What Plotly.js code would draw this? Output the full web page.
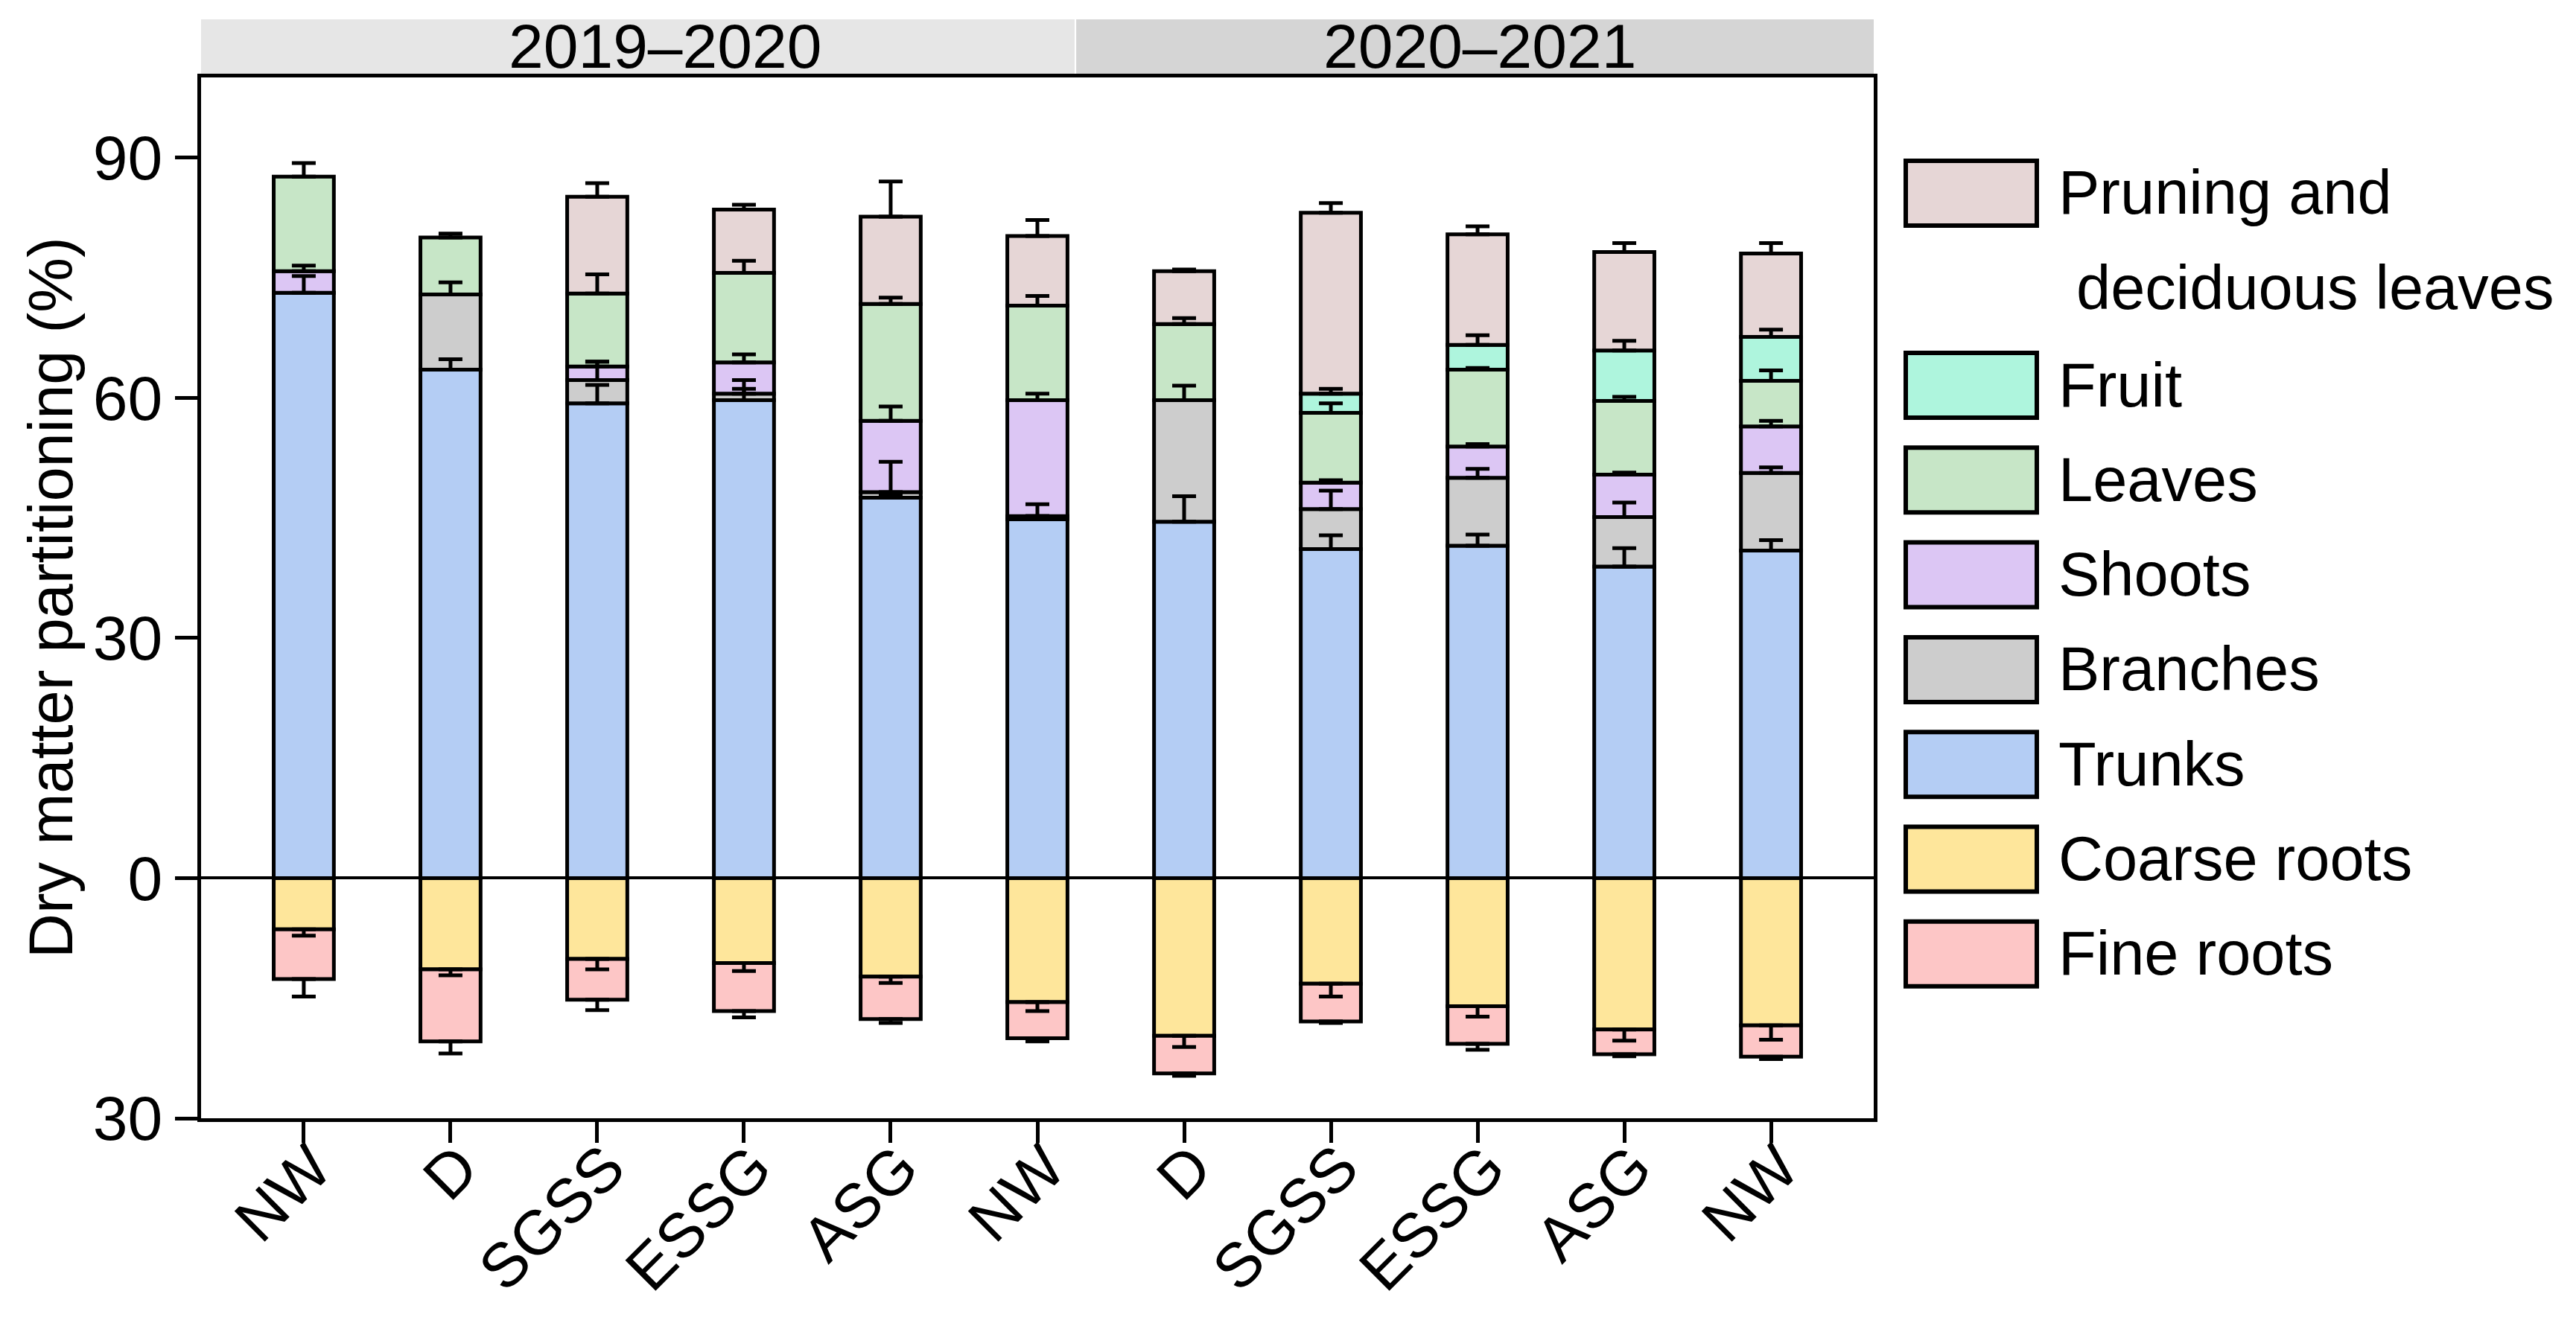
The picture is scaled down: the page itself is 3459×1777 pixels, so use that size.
<!DOCTYPE html>
<html><head><meta charset="utf-8">
<script src="https://cdn.plot.ly/plotly-3.0.1.min.js"></script>
<style>html,body{margin:0;padding:0;background:#fff;}#chart{width:3459px;height:1777px;}</style>
</head><body><div id="chart"></div>
<script>
// ---- data ----
const categories = ['NW','D','SGSS','ESSG','ASG','NW','D','SGSS','ESSG','ASG','NW'];
const periods = ['2019–2020','2020–2021'];
const yAxisTitle = 'Dry matter partitioning (%)';

const trunks      = [73.1, 63.5, 59.3, 59.7, 47.5, 44.8, 44.5, 41.1, 41.5, 38.9, 40.9];
const branches    = [null, 9.4, 2.9, 0.8, 0.7, 0.4, 15.2, 5.0, 8.5, 6.2, 9.7];
const shoots      = [2.7, null, 1.7, 3.9, 8.9, 14.5, null, 3.3, 3.9, 5.3, 5.8];
const leaves      = [11.8, 7.1, 9.1, 11.2, 14.6, 11.8, 9.5, 8.7, 9.6, 9.2, 5.7];
const fruit       = [null, null, null, null, null, null, null, 2.4, 3.1, 6.3, 5.5];
const pruning     = [null, null, 12.1, 7.9, 10.9, 8.7, 6.6, 22.6, 13.8, 12.3, 10.4];
const coarseRoots = [-6.4, -11.4, -10.1, -10.6, -12.3, -15.5, -19.7, -13.2, -16.0, -18.9, -18.4];
const fineRoots   = [-6.2, -9.0, -5.1, -6.0, -5.3, -4.5, -4.7, -4.7, -4.7, -3.1, -3.9];

const trunksErr      = [2.1, 1.3, 2.3, 1.4, 0.4, 0.4, 3.2, 1.7, 1.4, 2.3, 1.3];
const branchesErr    = [0, 1.5, 2.3, 1.7, 3.8, 1.5, 1.8, 2.3, 1.1, 1.8, 0.7];
const shootsErr      = [0.7, 0, 0.6, 1.0, 1.8, 0.8, 0, 0.3, 0.3, 0.25, 0.7];
const leavesErr      = [1.7, 0.5, 2.4, 1.5, 0.8, 1.2, 0.75, 1.2, 0.2, 0.5, 1.3];
const fruitErr       = [0, 0, 0, 0, 0, 0, 0, 0.6, 1.2, 1.2, 0.9];
const pruningErr     = [0, 0, 1.7, 0.6, 4.4, 2.0, 0.2, 1.2, 1.0, 1.1, 1.3];
const coarseRootsErr = [0.8, 0.75, 1.3, 1.0, 0.8, 1.1, 1.4, 1.6, 1.3, 1.4, 1.8];
const fineRootsErr   = [2.2, 1.5, 1.3, 0.8, 0.5, 0.4, 0.3, 0.2, 0.75, 0.25, 0.3];

const seriesNames  = ['Trunks','Branches','Shoots','Leaves','Fruit','Pruning and deciduous leaves','Coarse roots','Fine roots'];
const seriesValues = [trunks, branches, shoots, leaves, fruit, pruning, coarseRoots, fineRoots];
const seriesErrors = [trunksErr, branchesErr, shootsErr, leavesErr, fruitErr, pruningErr, coarseRootsErr, fineRootsErr];
const seriesColors = ['#b4cdf4','#cdcdcd','#dcc6f4','#c7e6c7','#aef5dd','#e6d6d6','#fee69b','#fdc6c6'];

const yTickVals = [-30, 0, 30, 60, 90];
const yTickText = ['30', '0', '30', '60', '90'];

// legend order (top to bottom) and its text lines
const legendOrder = [5, 4, 3, 2, 1, 0, 6, 7];
const legendLines = {5: ['Pruning and', 'deciduous leaves']};

// ---- build ----
const FONT = 'Liberation Sans, Arial, sans-serif';
const xIdx = categories.map((_, i) => i);
const traces = [];
seriesValues.forEach((vals, k) => {
  traces.push({
    type: 'bar', x: xIdx, y: vals, name: seriesNames[k], showlegend: false,
    marker: {color: seriesColors[k], line: {color: '#000', width: 5}},
    hoverinfo: 'skip'
  });
});
// error bars drawn on an overlaid, identical stack so they sit above all segments
seriesValues.forEach((vals, k) => {
  const neg = vals.some(v => v !== null && v < 0);
  const err = seriesErrors[k];
  const zeros = err.map(() => 0);
  traces.push({
    type: 'bar', x: xIdx, y: vals, xaxis: 'x2', yaxis: 'y2', showlegend: false,
    marker: {color: 'rgba(0,0,0,0)', line: {width: 0}}, hoverinfo: 'skip',
    error_y: {type: 'data', symmetric: false,
      array: neg ? zeros : err, arrayminus: neg ? err : zeros,
      color: '#000', thickness: 5, width: 16}
  });
});

const xRange = [-0.7, categories.length - 0.3];
const yRange = [-30, 100];
const L = 270, R = 2516, T = 104, B = 1502, W = 3459, H = 1777;
const px2paperX = p => (p - L) / (R - L);
const px2paperY = p => (B - p) / (B - T);

const shapes = [];
const annotations = [];
// period header strips
const splitX = px2paperX(1444);
const stripFills = ['#e6e6e6', '#d5d5d5'];
const stripBounds = [[0, splitX - 0.0005], [splitX + 0.0005, 1]];
periods.forEach((p, i) => {
  shapes.push({type: 'rect', xref: 'paper', yref: 'paper', x0: stripBounds[i][0], x1: stripBounds[i][1],
    y0: px2paperY(100), y1: px2paperY(26), fillcolor: stripFills[i], line: {width: 0}, layer: 'below'});
});
const stripTextX = [px2paperX(893), px2paperX(1987)];
periods.forEach((p, i) => {
  annotations.push({xref: 'paper', yref: 'paper', x: stripTextX[i], y: px2paperY(62), text: p,
    showarrow: false, xanchor: 'center', yanchor: 'middle', font: {family: FONT, size: 84, color: '#000'}});
});
// y-axis title
annotations.push({xref: 'paper', yref: 'paper', x: px2paperX(68), y: 0.5, text: yAxisTitle, textangle: -90,
  showarrow: false, xanchor: 'center', yanchor: 'middle', font: {family: FONT, size: 83, color: '#000'}});
// manual legend
legendOrder.forEach((k, j) => {
  const top = j === 0 ? 216 : 474 + (j - 1) * 127.3;
  const bot = top + 87;
  shapes.push({type: 'rect', xref: 'paper', yref: 'paper', x0: px2paperX(2559), x1: px2paperX(2735),
    y0: px2paperY(bot), y1: px2paperY(top), fillcolor: seriesColors[k], line: {color: '#000', width: 6}});
  const lines = legendLines[k] || [seriesNames[k]];
  lines.forEach((ln, m) => {
    annotations.push({xref: 'paper', yref: 'paper', x: px2paperX(m === 0 ? 2762 : 2786),
      y: px2paperY(top + 43 + m * 128), text: ln, showarrow: false, xanchor: 'left', yanchor: 'middle',
      font: {family: FONT, size: 83, color: '#000'}});
  });
});

const layout = {
  width: W, height: H,
  margin: {l: L, r: W - R, t: T, b: H - B, pad: 0},
  paper_bgcolor: '#fff', plot_bgcolor: '#fff',
  barmode: 'relative', bargap: 0.59,
  font: {family: FONT, size: 84, color: '#000'},
  xaxis: {range: xRange, tickvals: xIdx, ticktext: categories, tickangle: -45,
    showline: true, mirror: true, linecolor: '#000', linewidth: 5,
    ticks: 'outside', ticklen: 28, tickwidth: 5, tickcolor: '#000',
    ticklabelstandoff: -50, ticklabelshift: 12,
    showgrid: false, zeroline: false, automargin: false,
    tickfont: {family: FONT, size: 84, color: '#000'}},
  yaxis: {range: yRange, tickvals: yTickVals, ticktext: yTickText,
    showline: true, mirror: true, linecolor: '#000', linewidth: 5,
    ticks: 'outside', ticklen: 30, tickwidth: 5, tickcolor: '#000',
    showgrid: false, zeroline: true, zerolinecolor: '#000', zerolinewidth: 4,
    automargin: false,
    tickfont: {family: FONT, size: 84, color: '#000'}},
  xaxis2: {overlaying: 'x', range: xRange, visible: false, showgrid: false, zeroline: false},
  yaxis2: {overlaying: 'y', range: yRange, visible: false, showgrid: false, zeroline: false},
  shapes: shapes, annotations: annotations, showlegend: false
};

Plotly.newPlot('chart', traces, layout, {staticPlot: true, displayModeBar: false});
</script></body></html>
